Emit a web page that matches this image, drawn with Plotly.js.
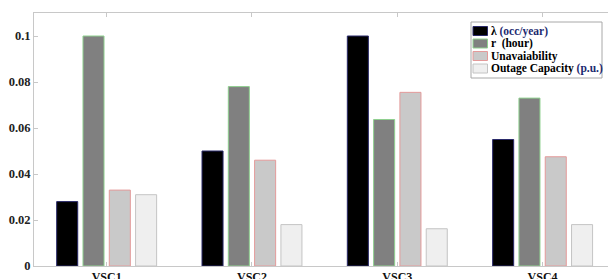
<!DOCTYPE html>
<html>
<head>
<meta charset="utf-8">
<script src="https://cdn.plot.ly/plotly-3.0.1.min.js"></script>
<style>html,body{margin:0;padding:0;background:#fff;}#chart{width:608px;height:279px;}</style>
</head>
<body>
<div id="chart"></div>
<script>
const categories = ['VSC1', 'VSC2', 'VSC3', 'VSC4'];
const lambdaVals = [0.028, 0.050, 0.100, 0.055];
const repairVals = [0.100, 0.078, 0.0637, 0.073];
const unavailVals = [0.033, 0.046, 0.0755, 0.0475];
const outageVals = [0.031, 0.018, 0.0162, 0.018];
const seriesNames = ['λ <span style="color:#1c2a70">(occ/year)</span>', 'r  (hour)', 'Unavaiability', 'Outage Capacity <span style="color:#1c2a70">(p.u.)</span>'];
const yTickVals = [0, 0.02, 0.04, 0.06, 0.08, 0.1];
const yTickText = ['0', '0.02', '0.04', '0.06', '0.08', '0.1'];

const fills = ['#000000', '#808080', '#c9c9c9', '#efefef'];
const lines = ['#2a2a6a', '#8fd08f', '#e49a9a', '#c4c4c4'];
const seriesVals = [lambdaVals, repairVals, unavailVals, outageVals];

const traces = seriesVals.map((vals, i) => ({
  type: 'bar',
  x: categories,
  y: vals,
  name: seriesNames[i],
  marker: {color: fills[i], line: {color: lines[i], width: 1}},
  showlegend: false,
  hoverinfo: 'skip'
}));

const W = 608, H = 279, L = 34, R = 0, T = 13, B = 13;
const pw = W - L - R, ph = H - T - B;
const xp = px => (px - L) / pw;
const yp = py => (H - B - py) / ph;

const shapes = [];
const annotations = [];
// legend box
shapes.push({type: 'rect', xref: 'paper', yref: 'paper', x0: xp(471), x1: xp(602), y0: yp(78), y1: yp(22),
  line: {color: '#a8a8a8', width: 1}, fillcolor: '#ffffff', layer: 'above'});
const rowY = [31, 43.5, 56, 68.5];
seriesNames.forEach((nm, i) => {
  shapes.push({type: 'rect', xref: 'paper', yref: 'paper', x0: xp(473), x1: xp(487.5), y0: yp(rowY[i] + 4.5), y1: yp(rowY[i] - 4.5),
    line: {color: lines[i], width: 1}, fillcolor: fills[i], layer: 'above'});
  annotations.push({xref: 'paper', yref: 'paper', x: xp(489), y: yp(rowY[i]), xanchor: 'left', yanchor: 'middle',
    text: '<b>' + nm + '</b>', showarrow: false, font: {family: 'Liberation Serif', size: 11.5, color: '#000'}});
});

const layout = {
  width: W, height: H,
  margin: {l: L, r: R, t: T, b: B, pad: 0},
  paper_bgcolor: '#ffffff', plot_bgcolor: '#ffffff',
  barmode: 'group', bargap: 0.276, bargroupgap: 0.2,
  showlegend: false,
  xaxis: {
    type: 'category', range: [-0.5, 3.45], autorange: false,
    showline: true, linecolor: '#c8c8c8', linewidth: 1, mirror: 'ticks',
    ticks: 'inside', ticklen: 4, tickcolor: '#c8c8c8',
    showgrid: false, zeroline: false, automargin: false,
    tickfont: {family: 'Liberation Serif', size: 12, color: '#111'},
    ticktext: categories.map(c => '<b>' + c + '</b>'), tickvals: categories,
    ticklabelstandoff: 0
  },
  yaxis: {
    range: [0, 0.11], autorange: false,
    tickvals: yTickVals, ticktext: yTickText.map(t => '<b>' + t + '</b>'),
    showline: true, linecolor: '#c8c8c8', linewidth: 1, mirror: false,
    ticks: 'inside', ticklen: 4, tickcolor: '#c8c8c8',
    showgrid: false, zeroline: false, automargin: false,
    tickfont: {family: 'Liberation Serif', size: 12.5, color: '#222'}
  },
  shapes: shapes,
  annotations: annotations
};

Plotly.newPlot('chart', traces, layout, {staticPlot: true, displayModeBar: false});
</script>
</body>
</html>
